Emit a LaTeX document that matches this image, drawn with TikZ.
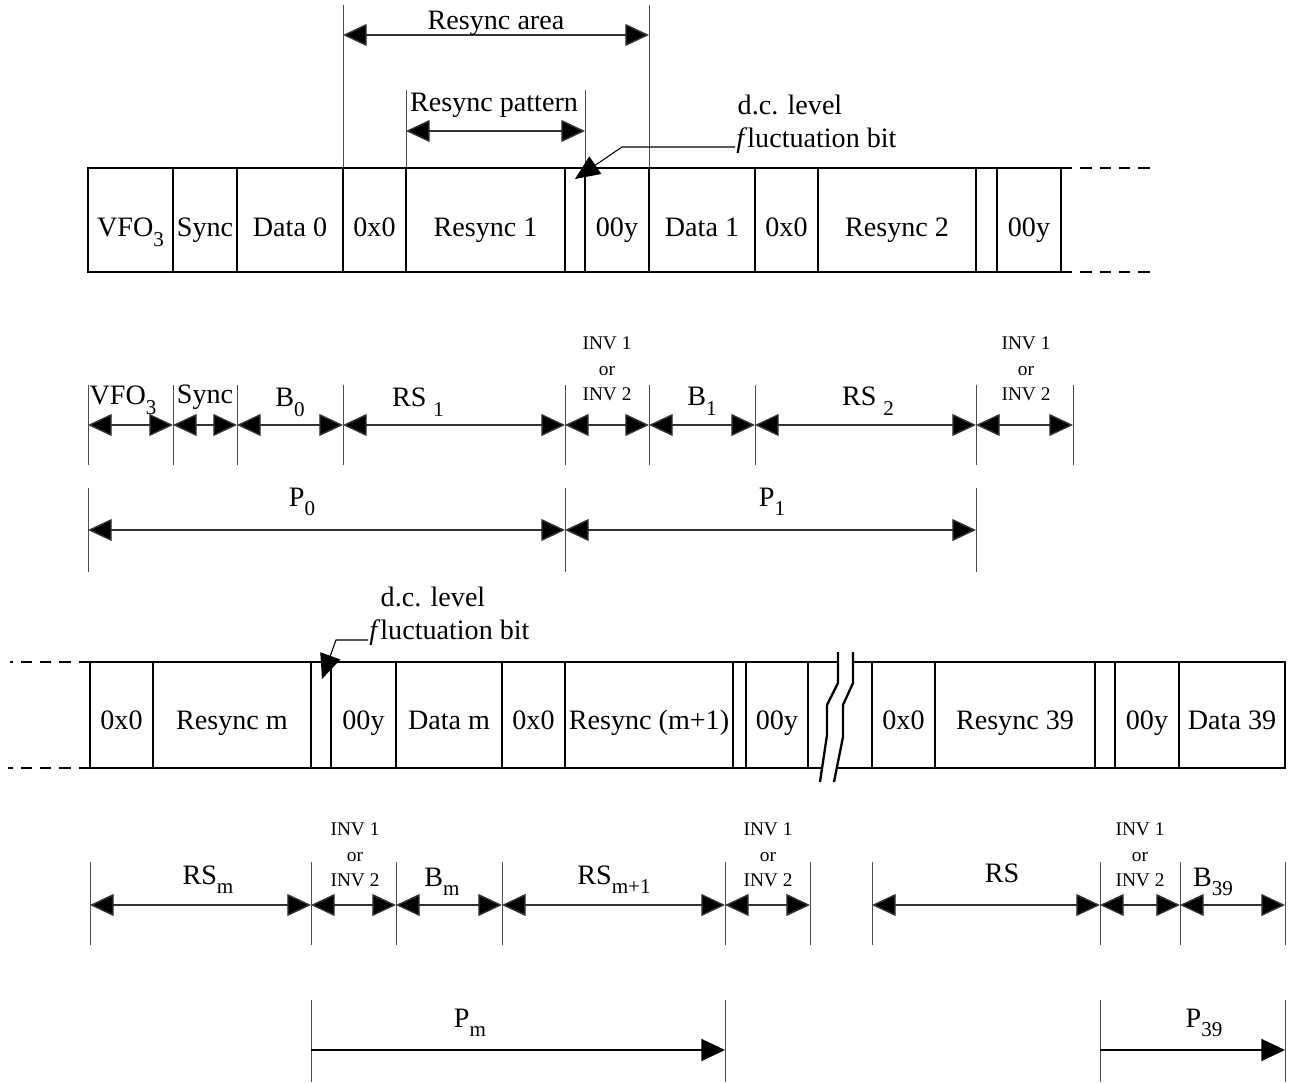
\documentclass[tikz,border=0pt]{standalone}
\usepackage{fontspec}
\setmainfont{Liberation Serif}
\usetikzlibrary{arrows.meta}
\newcommand\sbs[1]{\raisebox{-0.35em}{\fontsize{12}{12}\selectfont #1}}
\tikzset{
  boxline/.style={line width=1.4pt},
  dashline/.style={line width=1.4pt, dash pattern=on 6.5pt off 4.5pt},
  tickln/.style={line width=0.5pt, black!70},
  dimln/.style={line width=0.8pt, black!80, {Triangle[length=13.5pt,width=12.5pt,fill=black]}-{Triangle[length=13.5pt,width=12.5pt,fill=black]}},
  dimr/.style={line width=1.1pt, -{Triangle[length=13.5pt,width=12.5pt]}},
  lbl/.style={font=\fontsize{16}{19}\selectfont, inner sep=0pt, anchor=base},
  smalltxt/.style={font=\fontsize{11}{14.5}\selectfont, align=center, inner sep=0pt},
  leader/.style={line width=0.6pt, -{Triangle[length=14pt,width=12pt]}},
}
\newcommand\cellA[4]{\draw[boxline] (#2,168) rectangle (#3,272);
  \node[lbl] (#1) at ({(#2+#3)/2},237) {#4};}
\newcommand\cellB[4]{\draw[boxline] (#2,662) rectangle (#3,768);
  \node[lbl] (#1) at ({(#2+#3)/2},729) {#4};}
\begin{document}
\begin{tikzpicture}[x=0.02cm,y=-0.02cm]
\useasboundingbox (0,0) rectangle (1292,1084);

% ---------- top dimensions ----------
\draw[tickln] (343,5) -- (343,168);
\draw[tickln] (649,5) -- (649,168);
\coordinate (ra1) at (343,35);
\coordinate (ra2) at (649,35);
\draw[dimln] (ra1) -- (ra2);
\node[lbl] (ratxt) at (496,30) {Resync area};
\draw[tickln] (406,90) -- (406,168);
\draw[tickln] (585,90) -- (585,168);
\coordinate (rp1) at (406,131);
\coordinate (rp2) at (585,131);
\draw[dimln] (rp1) -- (rp2);
\node[lbl] (rptxt) at (494,112) {Resync pattern};

% ---------- row 1 boxes ----------
\cellA{a1}{88}{173}{VFO\sbs{3}}
\cellA{a2}{173}{237}{Sync}
\cellA{a3}{237}{343}{Data 0}
\cellA{a4}{343}{406}{0x0}
\cellA{a5}{406}{565}{Resync 1}
\cellA{a6}{565}{585}{}
\cellA{a7}{585}{649}{00y}
\cellA{a8}{649}{755}{Data 1}
\cellA{a9}{755}{818}{0x0}
\cellA{a10}{818}{976}{Resync 2}
\cellA{a11}{976}{997}{}
\cellA{a12}{997}{1061}{00y}
\coordinate (d1a) at (1061,168);
\coordinate (d1b) at (1150,168);
\coordinate (d1c) at (1061,272);
\coordinate (d1d) at (1150,272);
\draw[dashline] (d1a) -- (d1b);
\draw[dashline] (d1c) -- (d1d);

% d.c. level 1
\node[lbl] (dc1a) at (790,115) {d.c. level};
\node[lbl, anchor=base west] (dc1b) at (736,148) {\textit{f}luctuation bit};
\coordinate (dc1s) at (735,147);
\coordinate (dc1k) at (622,147);
\coordinate (dc1t) at (575,179);
\draw[leader] (dc1s) -- (dc1k) -- (dc1t);

% ---------- row 2 dimensions ----------
\foreach \i/\x in {1/88,2/173,3/237,4/343,5/565,6/649,7/755,8/976,9/1073}{
  \coordinate (t\i) at (\x,425);
  \draw[tickln] (\x,385) -- (\x,465);
}
\foreach \a/\b in {1/2,2/3,3/4,4/5,5/6,6/7,7/8,8/9}{
  \draw[dimln] (t\a) -- (t\b);
}
\node[lbl] (l2a) at (123,405) {VFO\sbs{3}};
\node[lbl] (l2b) at (205,404) {Sync};
\node[lbl] (l2c) at (290,407) {B\sbs{0}};
\node[lbl] (l2d) at (418,407) {RS \sbs{1}};
\node[smalltxt] (l2e) at (607,369) {INV 1\\or\\INV 2};
\node[lbl] (l2f) at (702,406) {B\sbs{1}};
\node[lbl] (l2g) at (868,406) {RS \sbs{2}};
\node[smalltxt] (l2h) at (1026,369) {INV 1\\or\\INV 2};

% ---------- row 3 ----------
\foreach \i/\x in {1/88,2/565,3/976}{
  \coordinate (p\i) at (\x,530);
  \draw[tickln] (\x,488) -- (\x,572);
}
\draw[dimln] (p1) -- (p2);
\draw[dimln] (p2) -- (p3);
\node[lbl] (l3a) at (302,506) {P\sbs{0}};
\node[lbl] (l3b) at (772,506) {P\sbs{1}};

% ---------- row 4 boxes ----------
\cellB{b1}{90}{153}{0x0}
\cellB{b2}{153}{311}{Resync m}
\cellB{b3}{311}{331}{}
\cellB{b4}{331}{396}{00y}
\cellB{b5}{396}{502}{Data m}
\cellB{b6}{502}{565}{0x0}
\cellB{b7}{565}{733}{Resync (m+1)}
\cellB{b8}{733}{746}{}
\cellB{b9}{746}{808}{00y}
\draw[boxline] (808,662) -- (872,662);
\draw[boxline] (808,768) -- (872,768);
\cellB{b11}{872}{935}{0x0}
\cellB{b12}{935}{1095}{Resync 39}
\cellB{b13}{1095}{1115}{}
\cellB{b14}{1115}{1179}{00y}
\cellB{b15}{1179}{1285}{Data 39}
\coordinate (d2a) at (90,662);
\coordinate (d2b) at (10,662);
\coordinate (d2c) at (90,768);
\coordinate (d2d) at (8,768);
\draw[dashline] (d2a) -- (d2b);
\draw[dashline] (d2c) -- (d2d);
% break
\fill[white] (838,650) -- (838,683) -- (827,705) -- (827,735) -- (820,782)
  -- (834,782) -- (843,737) -- (843,705) -- (853,683) -- (853,650) -- cycle;
\draw[line width=1.3pt] (838,652) -- (838,683) -- (827,705) -- (827,735) -- (820,782);
\draw[line width=1.3pt] (853,652) -- (853,683) -- (843,705) -- (843,737) -- (834,782);

% d.c. level 2
\node[lbl] (dc2a) at (433,606) {d.c. level};
\node[lbl, anchor=base west] (dc2b) at (369,639) {\textit{f}luctuation bit};
\coordinate (dc2s) at (368,640);
\coordinate (dc2k) at (336,640);
\coordinate (dc2t) at (322,679);
\draw[leader] (dc2s) -- (dc2k) -- (dc2t);

% ---------- row 5 dimensions ----------
\foreach \i/\x in {1/90,2/311,3/396,4/502,5/725,6/810,7/872,8/1100,9/1180,10/1285}{
  \coordinate (u\i) at (\x,905);
  \draw[tickln] (\x,862) -- (\x,945);
}
\foreach \a/\b in {1/2,2/3,3/4,4/5,5/6,7/8,8/9,9/10}{
  \draw[dimln] (u\a) -- (u\b);
}
\node[lbl] (l5a) at (208,884) {RS\sbs{m}};
\node[smalltxt] (l5b) at (355,855) {INV 1\\or\\INV 2};
\node[lbl] (l5c) at (442,886) {B\sbs{m}};
\node[lbl] (l5d) at (614,884) {RS\sbs{m+1}};
\node[smalltxt] (l5e) at (768,855) {INV 1\\or\\INV 2};
\node[lbl] (l5f) at (1002,882) {RS};
\node[smalltxt] (l5g) at (1140,855) {INV 1\\or\\INV 2};
\node[lbl] (l5h) at (1213,886) {B\sbs{39}};

% ---------- row 6 ----------
\foreach \i/\x in {1/311,2/725,3/1100,4/1285}{
  \coordinate (v\i) at (\x,1050);
  \draw[tickln] (\x,1000) -- (\x,1082);
}
\draw[dimr] (v1) -- (v2);
\draw[dimr] (v3) -- (v4);
\node[lbl] (l6a) at (470,1027) {P\sbs{m}};
\node[lbl] (l6b) at (1204,1027) {P\sbs{39}};
\end{tikzpicture}
\end{document}
